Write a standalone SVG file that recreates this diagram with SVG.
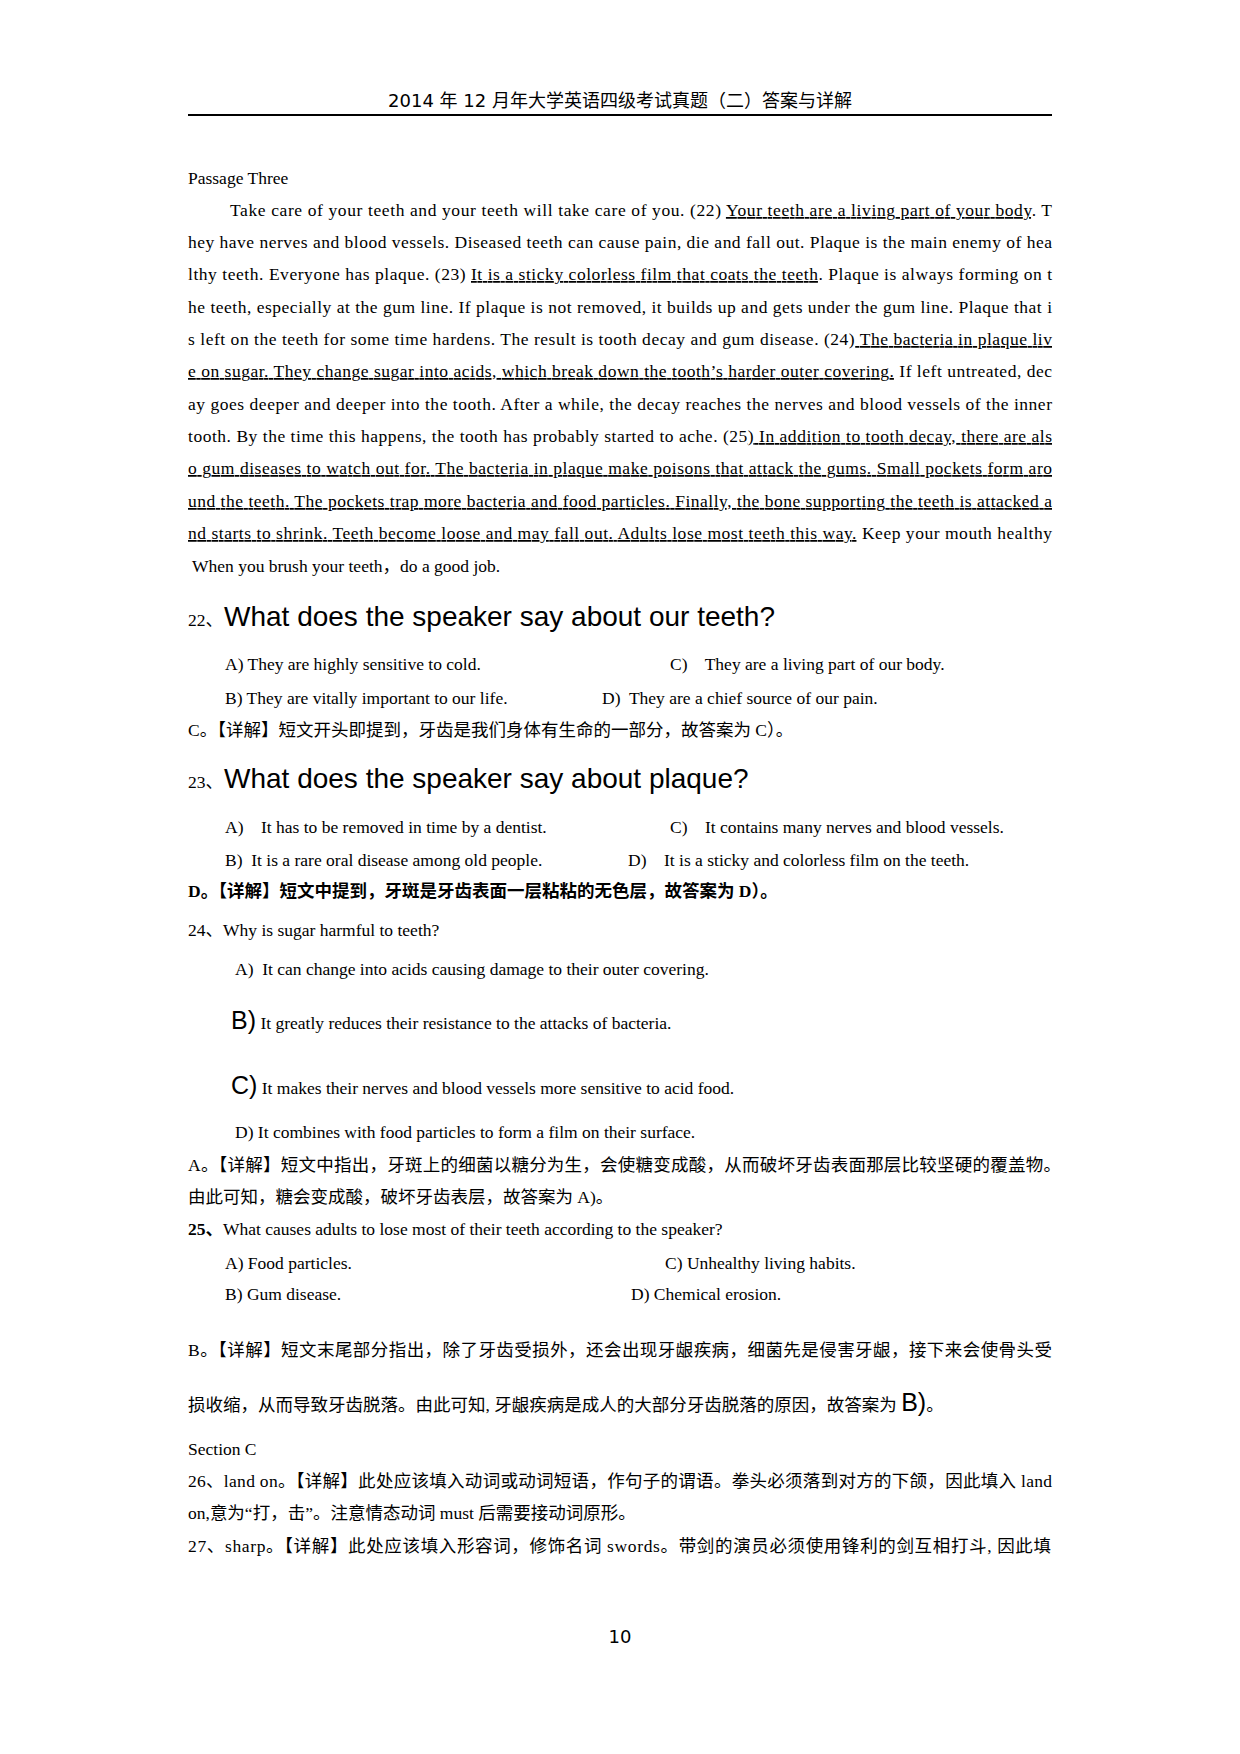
<svg xmlns="http://www.w3.org/2000/svg" width="1240" height="1754" viewBox="0 0 1240 1754">
<style>
.t{font-family:"Liberation Serif","Noto Sans CJK SC",serif;font-size:17.5px;fill:#000}
.h{font-family:"DejaVu Sans","Noto Sans CJK SC",sans-serif;fill:#000}
.q{font-family:"Liberation Sans","Noto Sans CJK SC",sans-serif;font-size:28px;fill:#000}
.u{text-decoration:underline}
.b{font-weight:bold}
.big{font-family:"Liberation Sans",sans-serif;font-size:25px}
</style>
<rect width="1240" height="1754" fill="#fff"/>
<g id="header">
<text class="h" x="620" y="107" font-size="18" text-anchor="middle">2014 年 12 月年大学英语四级考试真题（二）答案与详解</text>
<line x1="188" y1="115" x2="1052" y2="115" stroke="#000" stroke-width="2"/>
</g>
<g id="passage">
<text class="t" x="188" y="184">Passage Three</text>
<text class="t" x="230" y="216" textLength="822" lengthAdjust="spacing">Take care of your teeth and your teeth will take care of you. (22) <tspan class="u">Your teeth are a living part of your body</tspan>. T</text>
<text class="t" x="188" y="248" textLength="864" lengthAdjust="spacing">hey have nerves and blood vessels. Diseased teeth can cause pain, die and fall out. Plaque is the main enemy of hea</text>
<text class="t" x="188" y="280" textLength="864" lengthAdjust="spacing">lthy teeth. Everyone has plaque. (23) <tspan class="u">It is a sticky colorless film that coats the teeth</tspan>. Plaque is always forming on t</text>
<text class="t" x="188" y="313" textLength="864" lengthAdjust="spacing">he teeth, especially at the gum line. If plaque is not removed, it builds up and gets under the gum line. Plaque that i</text>
<text class="t" x="188" y="345" textLength="864" lengthAdjust="spacing">s left on the teeth for some time hardens. The result is tooth decay and gum disease. (24)<tspan class="u"> The bacteria in plaque liv</tspan></text>
<text class="t" x="188" y="377" textLength="864" lengthAdjust="spacing"><tspan class="u">e on sugar. They change sugar into acids, which break down the tooth’s harder outer covering.</tspan> If left untreated, dec</text>
<text class="t" x="188" y="410" textLength="864" lengthAdjust="spacing">ay goes deeper and deeper into the tooth. After a while, the decay reaches the nerves and blood vessels of the inner</text>
<text class="t" x="188" y="442" textLength="864" lengthAdjust="spacing">tooth. By the time this happens, the tooth has probably started to ache. (25<tspan class="u">) In addition to tooth decay, there are als</tspan></text>
<text class="t u" x="188" y="474" textLength="864" lengthAdjust="spacing">o gum diseases to watch out for. The bacteria in plaque make poisons that attack the gums. Small pockets form aro</text>
<text class="t u" x="188" y="507" textLength="864" lengthAdjust="spacing">und the teeth. The pockets trap more bacteria and food particles. Finally, the bone supporting the teeth is attacked a</text>
<text class="t" x="188" y="539" textLength="864" lengthAdjust="spacing"><tspan class="u">nd starts to shrink. Teeth become loose and may fall out. Adults lose most teeth this way.</tspan> Keep your mouth healthy</text>
<text class="t" x="192" y="572"> When you brush your teeth，do a good job.</text>
</g>
<g id="q22">
<text x="188" y="626"><tspan class="t">22、</tspan><tspan class="q" x="224">What does the speaker say about our teeth?</tspan></text>
<text class="t" x="225" y="670">A) They are highly sensitive to cold.</text>
<text class="t" x="670" y="670" xml:space="preserve">C)    They are a living part of our body.</text>
<text class="t" x="225" y="704">B) They are vitally important to our life.</text>
<text class="t" x="602" y="704" xml:space="preserve">D)  They are a chief source of our pain.</text>
<text class="t" x="188" y="736">C。【详解】短文开头即提到，牙齿是我们身体有生命的一部分，故答案为 C）。</text>
</g>
<g id="q23">
<text x="188" y="788"><tspan class="t">23、</tspan><tspan class="q" x="224">What does the speaker say about plaque?</tspan></text>
<text class="t" x="225" y="833" xml:space="preserve">A)    It has to be removed in time by a dentist.</text>
<text class="t" x="670" y="833" xml:space="preserve">C)    It contains many nerves and blood vessels.</text>
<text class="t" x="225" y="866" xml:space="preserve">B)  It is a rare oral disease among old people.</text>
<text class="t" x="628" y="866" xml:space="preserve">D)    It is a sticky and colorless film on the teeth.</text>
<text class="t b" x="188" y="897">D。【详解】短文中提到，牙斑是牙齿表面一层粘粘的无色层，故答案为 D）。</text>
</g>
<g id="q24">
<text class="t" x="188" y="936">24、Why is sugar harmful to teeth?</text>
<text class="t" x="235" y="975" xml:space="preserve">A)  It can change into acids causing damage to their outer covering.</text>
<text class="t" x="231" y="1029"><tspan class="big">B)</tspan> It greatly reduces their resistance to the attacks of bacteria.</text>
<text class="t" x="231" y="1094"><tspan class="big">C)</tspan> It makes their nerves and blood vessels more sensitive to acid food.</text>
<text class="t" x="235" y="1138">D) It combines with food particles to form a film on their surface.</text>
<text class="t" x="188" y="1171" textLength="873" lengthAdjust="spacing">A。【详解】短文中指出，牙斑上的细菌以糖分为生，会使糖变成酸，从而破坏牙齿表面那层比较坚硬的覆盖物。</text>
<text class="t" x="188" y="1203">由此可知，糖会变成酸，破坏牙齿表层，故答案为 A)。</text>
</g>
<g id="q25">
<text class="t" x="188" y="1235"><tspan class="b">25、</tspan>What causes adults to lose most of their teeth according to the speaker?</text>
<text class="t" x="225" y="1269">A) Food particles.</text>
<text class="t" x="665" y="1269">C) Unhealthy living habits.</text>
<text class="t" x="225" y="1300">B) Gum disease.</text>
<text class="t" x="631" y="1300">D) Chemical erosion.</text>
<text class="t" x="188" y="1356" textLength="864" lengthAdjust="spacing">B。【详解】短文末尾部分指出，除了牙齿受损外，还会出现牙龈疾病，细菌先是侵害牙龈，接下来会使骨头受</text>
<text class="t" x="188" y="1411">损收缩，从而导致牙齿脱落。由此可知, 牙龈疾病是成人的大部分牙齿脱落的原因，故答案为 <tspan class="big">B)</tspan>。</text>
</g>
<g id="sectionC">
<text class="t" x="188" y="1455">Section C</text>
<text class="t" x="188" y="1487" textLength="864" lengthAdjust="spacing">26、land on。【详解】此处应该填入动词或动词短语，作句子的谓语。拳头必须落到对方的下颌，因此填入 land</text>
<text class="t" x="188" y="1519">on,意为“打，击”。注意情态动词 must 后需要接动词原形。</text>
<text class="t" x="188" y="1552" textLength="863" lengthAdjust="spacing">27、sharp。【详解】此处应该填入形容词，修饰名词 swords。带剑的演员必须使用锋利的剑互相打斗, 因此填</text>
</g>
<g id="footer">
<text class="h" x="620" y="1643" font-size="18" text-anchor="middle">10</text>
</g>
</svg>
